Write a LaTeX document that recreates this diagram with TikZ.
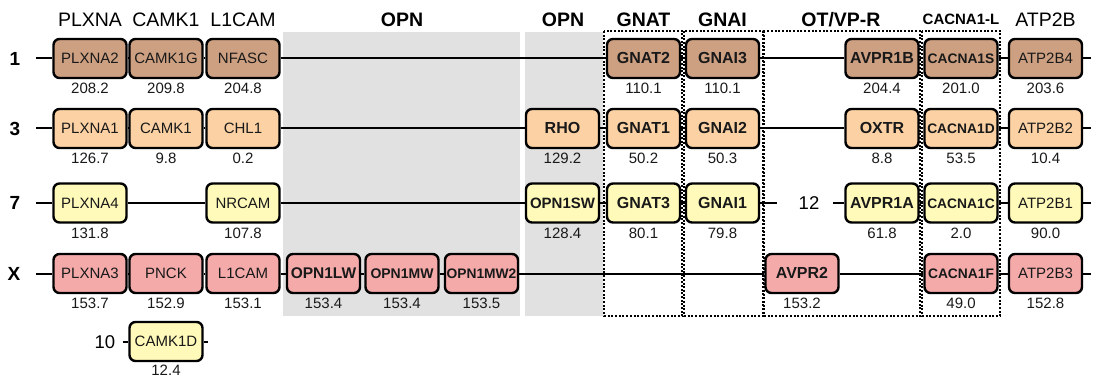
\documentclass[tikz,border=0pt]{standalone}
\usepackage{fontspec}
\setmainfont{Liberation Sans}
\definecolor{cBrown}{RGB}{205,160,130}
\definecolor{cOrange}{RGB}{252,210,165}
\definecolor{cYellow}{RGB}{255,250,185}
\definecolor{cPink}{RGB}{245,170,170}
\definecolor{cGray}{RGB}{225,225,225}
\newcommand\genebox[7][35]{%
  \node[#5] (#2) at (#3,#4) {#6};
  \node[num] (#2n) at (#3,#4+#1) {#7};}
\begin{document}
\begin{tikzpicture}[x=1pt,y=-1pt,
  gene/.style={draw=black, line width=2.4pt, rounded corners=6pt,
    minimum width=73pt, minimum height=39pt, inner sep=0pt,
    text height=10.7pt, text depth=0pt, text=black!90,
    font=\fontsize{15}{18}\selectfont},
  bgene/.style={gene, font=\fontsize{16}{18}\selectfont\bfseries},
  sgene/.style={gene, font=\fontsize{13.8}{16}\selectfont\bfseries},
  fs/.style={font=\fontsize{#1}{18}\selectfont\bfseries},
  r1/.style={fill=cBrown}, r3/.style={fill=cOrange},
  r7/.style={fill=cYellow}, rX/.style={fill=cPink},
  num/.style={anchor=base, inner sep=0pt, font=\fontsize{15}{18}\selectfont, text=black!90},
  hdr/.style={anchor=base, inner sep=0pt, font=\fontsize{19.5}{22}\selectfont},
  bhdr/.style={hdr, font=\fontsize{19.5}{22}\selectfont\bfseries},
  rowlab/.style={inner sep=0pt, text height=13.5pt, text depth=0pt, font=\fontsize{19}{22}\selectfont\bfseries},
  rowlabn/.style={rowlab, font=\fontsize{18.5}{22}\selectfont},
  conn/.style={line width=2pt, draw=black},
  dotbox/.style={line width=2.4pt, dash pattern=on 2pt off 1.7pt, draw=black}
]
\useasboundingbox (0,0) rectangle (1093,377);
% grey panels
\fill[cGray] (283,32) rectangle (520,316);
\fill[cGray] (525,32) rectangle (603,316);
% headers
\node[hdr] (hPLXNA) at (90,27) {PLXNA};
\node[hdr] (hCAMK) at (166,27) {CAMK1};
\node[hdr] (hL1CAM) at (243,27) {L1CAM};
\node[bhdr] (hOPNa) at (402,27) {OPN};
\node[bhdr] (hOPNb) at (563,27) {OPN};
\node[bhdr] (hGNAT) at (643.5,27) {GNAT};
\node[bhdr] (hGNAI) at (722.5,27) {GNAI};
\node[bhdr] (hOT) at (841,27) {OT/VP-R};
\node[hdr, font=\fontsize{15}{18}\selectfont\bfseries] (hCAC) at (961,25) {CACNA1-L};
\node[hdr] (hATP) at (1045.5,27) {ATP2B};
% row labels
\node[rowlab] (L1) at (15,58.5) {1};
\node[rowlab] (L3) at (15,128.5) {3};
\node[rowlab] (L7) at (15,203) {7};
\node[rowlab] (LX) at (14,273.5) {X};
\node[rowlabn] (L10) at (105,341.5) {10};
\node[rowlabn] (L12) at (809,203) {12};
% row 1
\genebox{PLXNAii}{90}{58.5}{gene,r1}{PLXNA2}{208.2}
\genebox{CAMKiG}{166}{58.5}{gene,r1}{CAMK1G}{209.8}
\genebox{NFASC}{243}{58.5}{gene,r1}{NFASC}{204.8}
\genebox{GNATii}{643.5}{58.5}{bgene,r1}{GNAT2}{110.1}
\genebox{GNAIiii}{722.5}{58.5}{bgene,r1}{GNAI3}{110.1}
\genebox{AVPRiB}{882}{58.5}{bgene,r1}{AVPR1B}{204.4}
\genebox{CACNAiS}{961}{58.5}{sgene,r1}{CACNA1S}{201.0}
\genebox{ATPiiBiv}{1045.5}{58.5}{gene,r1}{ATP2B4}{203.6}
% row 3
\genebox{PLXNAi}{90}{128.5}{gene,r3}{PLXNA1}{126.7}
\genebox{CAMKi}{166}{128.5}{gene,r3}{CAMK1}{9.8}
\genebox{CHLi}{243}{128.5}{gene,r3}{CHL1}{0.2}
\genebox{RHO}{562.5}{128.5}{bgene,r3}{RHO}{129.2}
\genebox{GNATi}{643.5}{128.5}{bgene,r3}{GNAT1}{50.2}
\genebox{GNAIii}{722.5}{128.5}{bgene,r3}{GNAI2}{50.3}
\genebox{OXTR}{882}{128.5}{bgene,r3}{OXTR}{8.8}
\genebox{CACNAiD}{961}{128.5}{sgene,r3}{CACNA1D}{53.5}
\genebox{ATPiiBii}{1045.5}{128.5}{gene,r3}{ATP2B2}{10.4}
% row 7
\genebox{PLXNAiv}{90}{203}{gene,r7}{PLXNA4}{131.8}
\genebox{NRCAM}{243}{203}{gene,r7}{NRCAM}{107.8}
\genebox{OPNiSW}{562.5}{203}{gene,fs=15,r7}{OPN1SW}{128.4}
\genebox{GNATiii}{643.5}{203}{bgene,r7}{GNAT3}{80.1}
\genebox{GNAIi}{722.5}{203}{bgene,r7}{GNAI1}{79.8}
\genebox{AVPRiA}{882}{203}{bgene,r7}{AVPR1A}{61.8}
\genebox{CACNAiC}{961}{203}{sgene,r7}{CACNA1C}{2.0}
\genebox{ATPiiBi}{1045.5}{203}{gene,r7}{ATP2B1}{90.0}
% row X
\genebox{PLXNAiii}{90}{273.5}{gene,rX}{PLXNA3}{153.7}
\genebox{PNCK}{166}{273.5}{gene,rX}{PNCK}{152.9}
\genebox{LiCAM}{243}{273.5}{gene,rX}{L1CAM}{153.1}
\genebox{OPNiLW}{323.5}{273.5}{gene,fs=15.5,rX}{OPN1LW}{153.4}
\genebox{OPNiMW}{402}{273.5}{gene,fs=14,rX}{OPN1MW}{153.4}
\genebox{OPNiMWii}{481.5}{273.5}{gene,fs=13.8,rX}{OPN1MW2}{153.5}
\genebox{AVPRii}{802}{273.5}{bgene,rX}{AVPR2}{153.2}
\genebox{CACNAiF}{961}{273.5}{sgene,rX}{CACNA1F}{49.0}
\genebox{ATPiiBiii}{1045.5}{273.5}{gene,rX}{ATP2B3}{152.8}
% row 10
\genebox[33.5]{CAMKiD}{166}{341.5}{gene,r7}{CAMK1D}{12.4}
% line end points
\coordinate (s1) at (36,58.5);   \coordinate (e1) at (1091,58.5);
\coordinate (s3) at (36,128.5);  \coordinate (e3) at (1091,128.5);
\coordinate (s7) at (36,203);    \coordinate (e7) at (1091,203);
\coordinate (a7) at (777,203);   \coordinate (b7) at (833,203);
\coordinate (sX) at (36,273.5);  \coordinate (eX) at (1091,273.5);
\coordinate (s10) at (123,341.5); \coordinate (e10) at (208,341.5);
% connectors
\draw[conn] (s1) -- (PLXNAii) -- (CAMKiG) -- (NFASC) -- (GNATii) -- (GNAIiii) -- (AVPRiB) -- (CACNAiS) -- (ATPiiBiv) -- (e1);
\draw[conn] (s3) -- (PLXNAi) -- (CAMKi) -- (CHLi) -- (RHO) -- (GNATi) -- (GNAIii) -- (OXTR) -- (CACNAiD) -- (ATPiiBii) -- (e3);
\draw[conn] (s7) -- (PLXNAiv) -- (NRCAM) -- (OPNiSW) -- (GNATiii) -- (GNAIi) -- (a7);
\draw[conn] (b7) -- (AVPRiA) -- (CACNAiC) -- (ATPiiBi) -- (e7);
\draw[conn] (sX) -- (PLXNAiii) -- (PNCK) -- (LiCAM) -- (OPNiLW) -- (OPNiMW) -- (OPNiMWii) -- (AVPRii) -- (CACNAiF) -- (ATPiiBiii) -- (eX);
\draw[conn] (s10) -- (CAMKiD) -- (e10);
% dotted family boxes
\draw[dotbox] (604,31) rectangle (682,316);
\draw[dotbox] (684,31) rectangle (763,316);
\draw[dotbox] (764,31) rectangle (920,316);
\draw[dotbox] (922,31) rectangle (1000,316);
\end{tikzpicture}
\end{document}
